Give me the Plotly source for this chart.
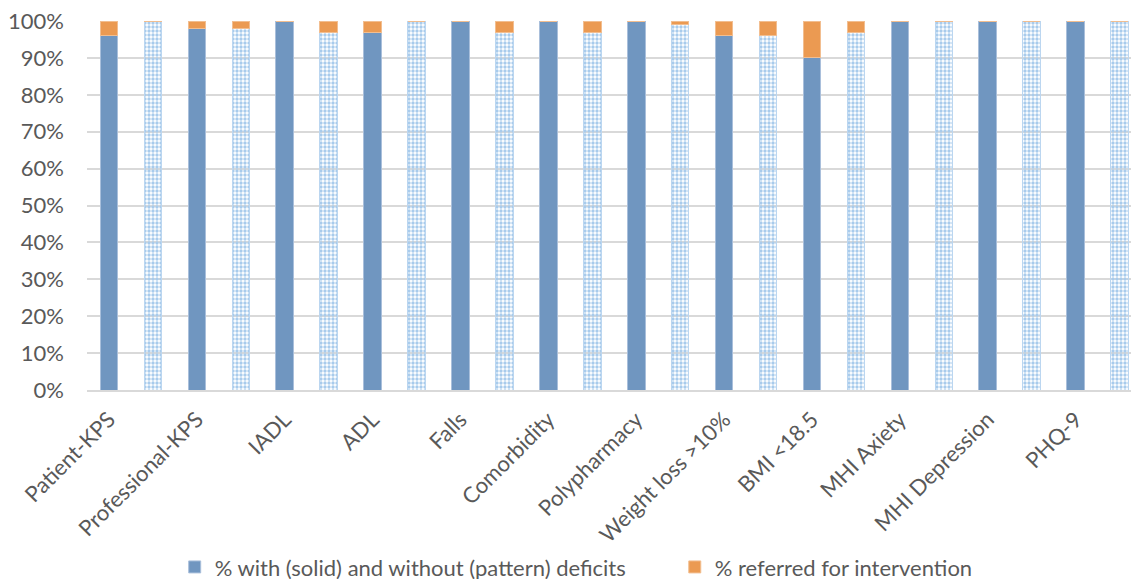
import plotly.graph_objects as go

categories = ["Patient-KPS", "Professional-KPS", "IADL", "ADL", "Falls", "Comorbidity",
              "Polypharmacy", "Weight loss >10%", "BMI <18.5", "MHI Axiety",
              "MHI Depression", "PHQ-9"]
# two bars per category: solid (with deficits) then pattern (without deficits)
bar_kind = ["solid", "pattern"] * 12
deficit_pct = [96, 100, 98, 98, 100, 97, 97, 100, 100, 97, 100, 97,
               100, 99, 96, 96, 90, 97, 100, 100, 100, 100, 100, 100]
referred_pct = [4, 0, 2, 2, 0, 3, 3, 0, 0, 3, 0, 3,
                0, 1, 4, 4, 10, 3, 0, 0, 0, 0, 0, 0]
y_ticks = [0, 10, 20, 30, 40, 50, 60, 70, 80, 90, 100]
y_tick_text = [f"{v}%" for v in y_ticks]

x_pos = list(range(len(deficit_pct)))
tick_pos = [i for i, k in enumerate(bar_kind) if k == "solid"]

BLUE = "#7096C0"
PAT = "#4F93D6"
ORANGE = "#EB9A52"
GRAY = "#595959"
FONT = "Lato"
FS = 22

shapes = ["" if k == "solid" else "." for k in bar_kind]
colors = [BLUE if k == "solid" else "#A8CBEC" for k in bar_kind]
lines = ["#A9BFDB" if k == "solid" else "#BBD6F0" for k in bar_kind]

fig = go.Figure()
fig.add_trace(go.Bar(
    x=x_pos, y=deficit_pct, width=0.4,
    name="% with (solid) and without (pattern) deficits",
    marker=dict(color=colors, line=dict(color=lines, width=1),
                pattern=dict(shape=shapes, fgcolor=[PAT] * len(bar_kind),
                             bgcolor=["white"] * len(bar_kind),
                             size=4, solidity=0.55, fillmode="replace")),
    hoverinfo="skip", legend="legend",
))
fig.add_trace(go.Bar(
    x=x_pos, y=referred_pct, width=0.4,
    name="% referred for intervention",
    marker=dict(color=ORANGE, line=dict(color="#F2BE90", width=1)),
    hoverinfo="skip", legend="legend2",
))

leg_common = dict(orientation="h", xanchor="left", y=-0.48, yanchor="middle",
                  font=dict(family=FONT, size=FS, color=GRAY),
                  itemwidth=30, bgcolor="rgba(0,0,0,0)")

fig.update_layout(
    barmode="stack",
    width=1131, height=579,
    margin=dict(l=87, r=0, t=21, b=189, autoexpand=False),
    paper_bgcolor="white", plot_bgcolor="white",
    font=dict(family=FONT, size=FS, color=GRAY),
    showlegend=True,
    legend=dict(x=0.084, **leg_common),
    legend2=dict(x=0.563, **leg_common),
    xaxis=dict(range=[-0.5, 23.26], tickmode="array", tickvals=tick_pos,
               ticktext=categories, tickangle=-45, showgrid=False,
               showline=True, linecolor="#D9D9D9", linewidth=2, ticks="",
               ticklabelstandoff=6, automargin=False,
               tickfont=dict(family=FONT, size=FS, color=GRAY), zeroline=False),
    yaxis=dict(range=[0, 100], tickmode="array", tickvals=y_ticks, ticktext=y_tick_text,
               showgrid=True, gridcolor="#D9D9D9", gridwidth=2, automargin=False,
               zeroline=False, showline=False, ticks="", ticklabelstandoff=22,
               tickfont=dict(family=FONT, size=FS, color=GRAY)),
)

fig.write_html("out.html")
